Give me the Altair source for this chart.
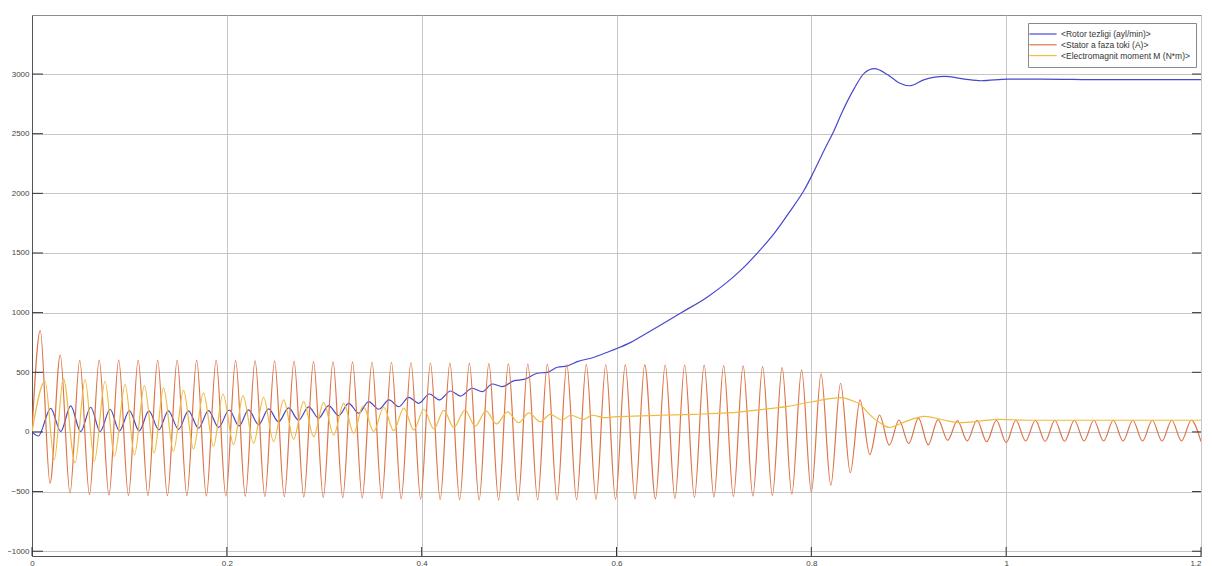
import altair as alt
import pandas as pd

SERIES = ["<Rotor tezligi (ayl/min)>", "<Stator a faza toki (A)>", "<Electromagnit moment M (N*m)>"]
COLORS = ["#4848cc", "#dc7448", "#efbb40"]

X_TICKS = [0, 0.2, 0.4, 0.6, 0.8, 1.0, 1.2]
Y_TICKS = [-1000, -500, 0, 500, 1000, 1500, 2000, 2500, 3000]
X_DOMAIN = [0, 1.2]
Y_DOMAIN = [-1040, 3495]

# Rotor speed (rpm): (t, value)
ROTOR = [
    (0, 0), (0.0065, -34), (0.0192, 198), (0.0295, 3), (0.0397, 218), (0.05, 3),
    (0.0603, 207), (0.0699, 3), (0.0802, 190), (0.0897, 8), (0.1, 179), (0.11, 8),
    (0.12, 176), (0.1302, 17), (0.14, 176), (0.1504, 22), (0.1606, 176), (0.1709, 31),
    (0.1812, 179), (0.1915, 39), (0.2025, 184), (0.2125, 50), (0.2223, 185), (0.2326, 62),
    (0.2429, 193), (0.2531, 85), (0.2634, 201), (0.2737, 98), (0.284, 210), (0.2942, 115),
    (0.3045, 221), (0.3148, 137), (0.3251, 240), (0.3354, 157), (0.3456, 254), (0.3559, 190),
    (0.3665, 268), (0.3765, 212), (0.3867, 290), (0.397, 240), (0.408, 318), (0.4183, 268),
    (0.4296, 343), (0.4399, 301), (0.4519, 366), (0.4622, 338), (0.4725, 402), (0.4827, 380),
    (0.495, 430), (0.505, 440), (0.5187, 492), (0.529, 500), (0.5393, 542), (0.5495, 553),
    (0.5598, 589), (0.5769, 626), (0.5906, 668), (0.6009, 701), (0.6146, 751), (0.6283, 815),
    (0.6454, 897), (0.666, 997), (0.6934, 1132), (0.714, 1258), (0.7277, 1356), (0.7448, 1501),
    (0.7619, 1664), (0.779, 1860), (0.7927, 2028), (0.8017, 2168), (0.8133, 2364), (0.8236, 2532),
    (0.8304, 2659), (0.8441, 2880), (0.8544, 3008), (0.8647, 3045), (0.8784, 2994),
    (0.8903, 2925), (0.9006, 2902), (0.916, 2953), (0.9366, 2980), (0.9571, 2958), (0.9743, 2944),
    (1.0017, 2958), (1.036, 2958), (1.1, 2953), (1.2, 2953),
]

# Stator phase A current (A): peaks and troughs (t, value)
STATOR = [
    (0, 0), (0.0085, 850), (0.0185, -430), (0.029, 645), (0.039, -512), (0.049, 600),
    (0.059, -525), (0.069, 602), (0.079, -530), (0.089, 602), (0.099, -532), (0.109, 600),
    (0.119, -533), (0.129, 600), (0.139, -535), (0.149, 600), (0.159, -535), (0.169, 600),
    (0.179, -536), (0.189, 600), (0.199, -537), (0.209, 598), (0.219, -538), (0.229, 596),
    (0.239, -540), (0.249, 594), (0.259, -542), (0.269, 592), (0.279, -545), (0.289, 590),
    (0.299, -548), (0.309, 588), (0.319, -551), (0.329, 586), (0.339, -554), (0.349, 584),
    (0.359, -557), (0.369, 582), (0.379, -560), (0.389, 580), (0.399, -563), (0.409, 578),
    (0.419, -566), (0.429, 576), (0.439, -568), (0.449, 574), (0.459, -570), (0.469, 572),
    (0.479, -571), (0.489, 570), (0.499, -571), (0.509, 568), (0.519, -570), (0.529, 566),
    (0.539, -569), (0.549, 565), (0.559, -567), (0.569, 564), (0.579, -565), (0.589, 563),
    (0.599, -563), (0.609, 562), (0.619, -561), (0.629, 562), (0.640, -560), (0.650, 561),
    (0.660, -558), (0.670, 561), (0.680, -548), (0.690, 560), (0.700, -545), (0.710, 556),
    (0.720, -540), (0.730, 553), (0.740, -536), (0.750, 547), (0.760, -531), (0.770, 539),
    (0.780, -522), (0.790, 520), (0.800, -503), (0.810, 486), (0.820, -447), (0.830, 408),
    (0.840, -341), (0.850, 268), (0.860, -190), (0.870, 142), (0.880, -110), (0.890, 100),
    (0.900, -98), (0.910, 115), (0.920, -108), (0.930, 104), (0.940, -70), (0.950, 94),
    (0.960, -75), (0.970, 98), (0.980, -82), (0.990, 98), (1.000, -90), (1.010, 98),
    (1.020, -76), (1.030, 98), (1.040, -80), (1.050, 98), (1.060, -78), (1.070, 98),
    (1.080, -76), (1.090, 98), (1.100, -76), (1.110, 98), (1.120, -76), (1.130, 98),
    (1.140, -76), (1.150, 98), (1.160, -76), (1.170, 98), (1.180, -76), (1.190, 98),
    (1.200, -80),
]

# Electromagnetic torque (N*m): (t, value)
TORQUE = [
    (0, 0), (0.0134, 425), (0.0229, -232), (0.0322, 447), (0.0442, -260), (0.0545, 438),
    (0.064, -246), (0.075, 425), (0.0846, -204), (0.0956, 397), (0.1052, -190), (0.1154, 388),
    (0.1254, -176), (0.135, 369), (0.1452, -162), (0.1555, 349), (0.1658, -142), (0.176, 327),
    (0.1863, -120), (0.196, 318), (0.207, -106), (0.2166, 304), (0.2275, -95), (0.2377, 290),
    (0.248, -81), (0.2583, 268), (0.2686, -61), (0.2788, 254), (0.2891, -39), (0.2994, 246),
    (0.3097, -25), (0.32, 240), (0.3302, -11), (0.3399, 218), (0.3508, 3), (0.361, 207),
    (0.3713, 10), (0.3816, 200), (0.3919, 17), (0.4022, 190), (0.4125, 25), (0.4227, 180),
    (0.433, 38), (0.4445, 182), (0.455, 48), (0.466, 176), (0.477, 67), (0.488, 168),
    (0.4996, 78), (0.510, 159), (0.5218, 86), (0.532, 148), (0.544, 100), (0.553, 140),
    (0.5664, 106), (0.5752, 140), (0.587, 120), (0.600, 128), (0.625, 135), (0.6455, 140),
    (0.68, 148), (0.7141, 159), (0.7484, 187), (0.7758, 215), (0.7998, 251), (0.8306, 288),
    (0.8409, 265), (0.851, 225), (0.858, 160), (0.8716, 70), (0.88, 38), (0.8958, 84),
    (0.916, 131), (0.9369, 98), (0.954, 78), (0.971, 89), (0.992, 106), (1.0226, 98),
    (1.057, 98), (1.1, 98), (1.2, 98),
]

rows = []
for name, pts in zip(SERIES, [ROTOR, STATOR, TORQUE]):
    for t, v in pts:
        rows.append({"t": t, "v": v, "s": name})
df = pd.DataFrame(rows)

W, H = 1169, 541
FONT = "Liberation Sans"

xscale = alt.Scale(domain=X_DOMAIN, nice=False, zero=False)
yscale = alt.Scale(domain=Y_DOMAIN, nice=False, zero=False)

lines = alt.Chart(df).mark_line(strokeWidth=1.2, interpolate="monotone", clip=True).encode(
    x=alt.X("t:Q", scale=xscale,
            axis=alt.Axis(values=X_TICKS, format="~g", title=None, ticks=False,
                          labelPadding=3, labelFlush=False,
                          labelAlign={"condition": {"test": "datum.value >= 1.19", "value": "right"},
                                      "value": "center"})),
    y=alt.Y("v:Q", scale=yscale,
            axis=alt.Axis(values=Y_TICKS, format="d", title=None, ticks=False,
                          labelPadding=3)),
    color=alt.Color(
        "s:N",
        scale=alt.Scale(domain=SERIES, range=COLORS),
        legend=alt.Legend(
            title=None, orient="none", legendX=996, legendY=8,
            symbolType="M-3.4,0H3.4", symbolSize=64, symbolStrokeWidth=1.2,
            symbolOffset=4,
            fillColor="white", strokeColor="#8a8a8a", padding=6,
            labelFontSize=8.5, labelColor="#333333", labelFont=FONT,
            rowPadding=0.8, labelOffset=13,
        ),
    ),
    detail="s:N",
)

ytick_df = pd.DataFrame({"v": Y_TICKS})
xtick_df = pd.DataFrame({"t": X_TICKS})

ytl = alt.Chart(ytick_df).mark_rule(color="#333333", strokeWidth=1).encode(
    y=alt.Y("v:Q", scale=yscale), x=alt.value(0), x2=alt.value(11))
ytr = alt.Chart(ytick_df).mark_rule(color="#333333", strokeWidth=1).encode(
    y=alt.Y("v:Q", scale=yscale), x=alt.value(W - 9), x2=alt.value(W))
xtb = alt.Chart(xtick_df).mark_rule(color="#333333", strokeWidth=1).encode(
    x=alt.X("t:Q", scale=xscale), y=alt.value(H - 9), y2=alt.value(H))

chart = alt.layer(lines, ytl, ytr, xtb).properties(
    width=W, height=H,
    padding={"left": 24, "top": 7, "right": 3, "bottom": 10},
    autosize=alt.AutoSizeParams(type="none"),
    background="white",
).configure_view(
    stroke="#8c8c8c", strokeWidth=1,
).configure_axis(
    domainColor="#555555", domainWidth=1,
    gridColor="#c6c6c6", gridWidth=1,
    labelFont=FONT, labelFontSize=8, labelColor="#444444",
)

chart.save("out.html", embed_options={"renderer": "svg", "actions": False})
